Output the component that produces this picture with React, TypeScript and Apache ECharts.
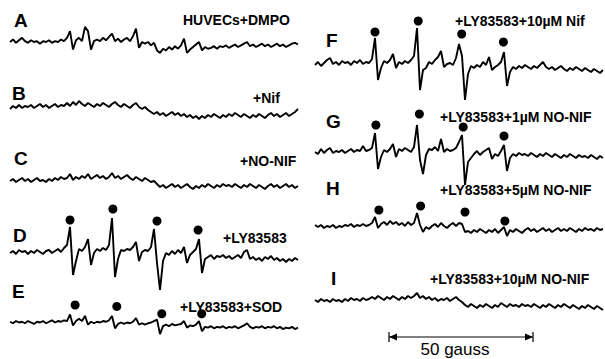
import React, { useEffect, useRef } from "react";
import * as echarts from "echarts";

// EPR spectra (relative signal amplitude, arbitrary units), 97 samples each across the field sweep
const traceA = [0,3,-1,2,5,1,-1,2,0,1, -2,1,0,2,-1,1,0,3,1,5, 13,-9,2,5,1,18,13,-9,1,3, 1,5,2,6,10,1,4,0,3,5, 1,7,16,-7,0,-2,0,-4,-1,-10, -13,-8,-10,-6,-9,-5,-8,-4,4,-13, -9,-6,-3,0,-10,-6,-8,-7,-5,-8, -5,-6,-4,-7,-5,-3,-6,-4,-2,0, -5,-3,-6,-4,-2,-5,-3,-6,-4,-2, -5,-3,-6,-4,-2,-1,-3];
const traceB = [2,5,3,6,3,5,4,6,3,5, 7,4,6,3,5,7,4,6,5,8, 5,9,6,10,7,5,8,6,4,7, 5,8,6,4,7,9,6,4,7,5, 3,6,8,4,2,4,1,-1,-3,-1, -4,-2,-5,-3,-1,-4,-2,-5,-3,-6, -4,-7,-5,-8,-5,-7,-4,-6,-3,-5, -7,-4,-6,-3,-5,-2,-4,-6,-3,-5, -7,-4,-6,-3,-5,-7,-4,-2,-5,-3, -6,-4,-2,-5,-3,-1,2];
const traceC = [2,4,1,3,5,2,4,1,3,5, 2,3,1,4,2,5,3,6,4,5, 9,3,6,4,7,5,9,4,6,8, 5,7,4,6,10,5,7,4,6,8, 5,3,6,4,2,5,3,1,2,-1, -4,-2,-5,-3,-1,-4,-2,-5,-3,-1, -4,-6,-3,-5,-2,-4,-1,-3,-5,-2, -4,-1,-3,-2,-4,-1,-3,-5,-2,-4, -1,-3,-5,-2,-4,-6,-3,-1,-4,-2, -5,-3,-1,-4,-2,-5,-3];
const traceD = [0,2,-1,3,1,2,-1,2,0,3, 1,-1,2,3,0,2,4,1,5,8, 26,-22,-8,4,2,6,14,-12,0,4, 2,5,3,8,35,-24,-6,3,2,4, 3,6,11,-8,1,3,2,6,24,-10, -37,-8,0,-2,2,-1,3,0,6,-10, -2,1,4,14,-20,-6,-4,-2,-6,-3, -4,-2,-5,-3,-6,-4,-2,-5,1,3, -6,-4,-7,-5,-8,-4,-6,-3,-7,-5, -8,-6,-9,-6,-8,-5,-7];
const traceE = [1,-1,2,0,1,-1,2,0,-2,1, 0,2,-1,1,3,0,2,1,3,2, 11,-4,2,5,2,9,-3,1,-1,1, 0,2,1,3,9,-8,-2,0,-2,0, -1,1,6,-3,-1,-3,-1,0,2,4, -16,-5,-3,-5,-2,-4,-3,-2,2,-7, -4,-5,-3,2,-12,-6,-7,-5,-8,-6, -7,-5,-8,-6,-7,-5,-8,-6,-4,-1, -6,-8,-6,-7,-5,-8,-6,-7,-5,-8, -6,-9,-7,-8,-6,-9,-7];
const traceF = [-1,2,-2,1,4,6,0,2,-1,3, 1,2,-1,3,1,4,0,2,1,5, 26,-16,-4,3,1,4,10,-4,2,0, 3,1,4,8,36,-26,-6,-4,2,0, 4,7,13,-3,0,1,-1,6,20,8, -36,-10,-2,-4,-1,-3,2,-1,7,-6, -3,-1,2,12,-22,-8,-3,-5,-2,-4, -1,-3,-5,-2,-4,-1,2,-3,-5,-3, -6,-4,-2,-5,-7,-4,-6,-3,-5,-7, -4,-6,-8,-5,-7,-9,-6];
const traceG = [0,-2,3,-1,2,4,-1,1,0,2, -1,1,3,0,2,1,6,1,2,4, 19,-17,-5,2,0,3,8,-5,3,1, 4,2,0,5,27,-8,-22,-3,3,2, 5,1,13,0,3,1,2,4,10,17, -33,-10,-6,-2,1,-3,0,2,4,-7, -2,-4,1,7,-19,-6,-2,-4,-1,-3, -2,-4,-1,-3,-5,-2,-4,-1,-3,-5, -2,-4,-6,-3,-5,-2,-4,-6,-3,-5, -4,-6,-3,-5,-7,-4,-6];
const traceH = [2,0,2,-1,1,0,2,-1,1,0, 2,1,3,0,2,1,3,1,2,4, 10,-1,3,5,2,6,3,5,2,4, 1,5,2,4,14,2,-5,0,-2,1, 3,0,4,1,-1,2,4,1,4,3, -5,-4,-6,-3,-5,-2,-4,-6,-3,-5, -2,-6,-3,0,-9,-3,-5,-2,-4,-6, -3,-1,-4,-2,-5,-3,-1,-4,-2,-5, -3,-1,-4,-2,-4,-1,-3,-5,-2,-4, -1,-3,-2,-4,-1,-3,-2];
const traceI = [2,0,3,1,2,0,3,1,2,0, 3,1,4,2,3,1,4,2,3,5, 3,6,4,2,5,3,6,4,2,5, 3,6,4,6,9,4,6,3,5,2, 4,1,3,2,4,1,3,5,2,0, -3,-5,-2,-4,-6,-3,-5,-2,-4,-6, -3,-5,-1,-3,-5,-2,-4,-3,-5,-2, -4,-3,-5,-2,-4,-6,-3,-5,-2,-4, -6,-3,-5,-2,-4,-6,-3,-5,-7,-4, -6,-3,-5,-7,-4,-6,-8];

// markers above the DMPO adduct lines: [sample index, amplitude]
const dotsD = [[20, 33], [34.3, 44], [49, 32], [62.7, 23]];
const dotsE = [[21.7, 24], [35.6, 22], [50.6, 12], [63.9, 12]];
const dotsF = [[20, 32], [34.4, 43], [48.9, 30], [62.8, 22]];
const dotsG = [[20.3, 27], [34.8, 38], [49.4, 25], [63, 16]];
const dotsH = [[21.3, 17], [35.2, 21], [50, 15], [63.3, 6]];

const panelLetters = ["A", "B", "C", "D", "E", "F", "G", "H", "I"];
const conditionLabels = [
  "HUVECs+DMPO",
  "+Nif",
  "+NO-NIF",
  "+LY83583",
  "+LY83583+SOD",
  "+LY83583+10\u00b5M Nif",
  "+LY83583+1\u00b5M NO-NIF",
  "+LY83583+5\u00b5M NO-NIF",
  "+LY83583+10\u00b5M NO-NIF",
];
const scaleLabel = "50 gauss";

const traces = [traceA, traceB, traceC, traceD, traceE, traceF, traceG, traceH, traceI];
const dots = [null, null, null, dotsD, dotsE, dotsF, dotsG, dotsH, null];

// layout (pixels)
const layout = [
  { x0: 10, base: 34, letter: [14, 20], label: [183, 20] },
  { x0: 10, base: 111, letter: [12, 93], label: [253, 98] },
  { x0: 10, base: 183, letter: [14, 158], label: [240, 161] },
  { x0: 10, base: 253, letter: [13, 235], label: [223, 238] },
  { x0: 10, base: 336, letter: [12, 291], label: [180, 307] },
  { x0: 315, base: 64, letter: [326, 40], label: [455, 21] },
  { x0: 315, base: 152, letter: [326, 121], label: [440, 117] },
  { x0: 315, base: 227, letter: [326, 188], label: [440, 190] },
  { x0: 315, base: 302, letter: [331, 278], label: [430, 279] },
];

const FONT = '"Liberation Sans", Arial, Helvetica, sans-serif';

export default function App() {
  const ref = useRef<HTMLDivElement>(null);
  useEffect(() => {
    if (!ref.current) return;
    const chart = echarts.init(ref.current, undefined, { renderer: "svg" });
    const grid: any[] = [];
    const xAxis: any[] = [];
    const yAxis: any[] = [];
    const series: any[] = [];
    const graphic: any[] = [];
    traces.forEach((tr, k) => {
      const L = layout[k];
      grid.push({ left: L.x0, width: 288, top: L.base - 50, height: 100 });
      xAxis.push({ type: "value", gridIndex: k, min: 0, max: tr.length - 1, show: false });
      yAxis.push({ type: "value", gridIndex: k, min: -50, max: 50, show: false });
      series.push({
        type: "line",
        xAxisIndex: k,
        yAxisIndex: k,
        data: tr.map((v, i) => [i, v]),
        showSymbol: false,
        symbol: "none",
        lineStyle: { color: "#000", width: 1.9 },
        silent: true,
      });
      const d = dots[k];
      if (d) {
        series.push({
          type: "scatter",
          xAxisIndex: k,
          yAxisIndex: k,
          data: d,
          symbol: "circle",
          symbolSize: 9,
          itemStyle: { color: "#000", opacity: 1 },
          silent: true,
        });
      }
      graphic.push({
        type: "text",
        x: L.letter[0],
        y: L.letter[1],
        style: {
          text: panelLetters[k],
          fill: "#000",
          fontFamily: FONT,
          fontWeight: "bold",
          fontSize: 19,
          verticalAlign: "middle",
          align: "left",
        },
      });
      graphic.push({
        type: "text",
        x: L.label[0],
        y: L.label[1],
        style: {
          text: conditionLabels[k],
          fill: "#000",
          fontFamily: FONT,
          fontWeight: "bold",
          fontSize: 14,
          verticalAlign: "middle",
          align: "left",
        },
      });
    });
    // scale bar
    const bx1 = 389, bx2 = 533, by = 337;
    graphic.push(
      { type: "line", shape: { x1: bx1, y1: by, x2: bx2, y2: by }, style: { stroke: "#000", lineWidth: 1 } },
      { type: "line", shape: { x1: bx1, y1: by - 5, x2: bx1, y2: by + 5 }, style: { stroke: "#000", lineWidth: 1.2 } },
      { type: "line", shape: { x1: bx2, y1: by - 5, x2: bx2, y2: by + 5 }, style: { stroke: "#000", lineWidth: 1.2 } },
      { type: "polygon", shape: { points: [[bx1, by], [bx1 + 8, by - 3.5], [bx1 + 8, by + 3.5]] }, style: { fill: "#000" } },
      { type: "polygon", shape: { points: [[bx2, by], [bx2 - 8, by - 3.5], [bx2 - 8, by + 3.5]] }, style: { fill: "#000" } },
      {
        type: "text",
        x: 455,
        y: 349,
        style: {
          text: scaleLabel,
          fill: "#000",
          fontFamily: FONT,
          fontSize: 17,
          verticalAlign: "middle",
          align: "center",
        },
      }
    );
    chart.setOption({
      animation: false,
      backgroundColor: "#fff",
      grid,
      xAxis,
      yAxis,
      series,
      graphic,
    });
    return () => chart.dispose();
  }, []);
  return (
    <div
      ref={ref}
      style={{ position: "fixed", left: 0, top: 0, width: 605, height: 359, background: "#fff" }}
    />
  );
}
